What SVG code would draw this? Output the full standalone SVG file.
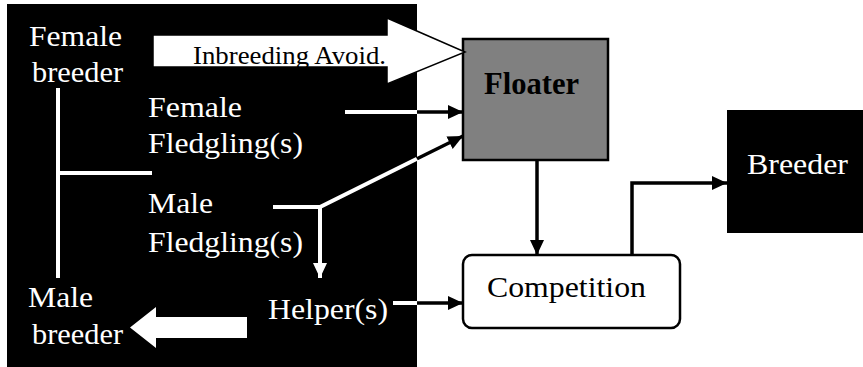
<svg xmlns="http://www.w3.org/2000/svg" width="863" height="367" viewBox="0 0 863 367" font-family="Liberation Serif, Times New Roman, serif">
<style>
text{font-family:'Liberation Serif','Times New Roman',serif;font-size:30px}
.w{fill:#fff}
.k{fill:#000}
.wl{stroke:#fff;stroke-width:4;fill:none}
.kl{stroke:#000;stroke-width:3.5;fill:none}
</style>
<defs>
<marker id="ah" markerUnits="userSpaceOnUse" markerWidth="16" markerHeight="14" refX="15" refY="7" orient="auto"><path d="M0,0 L15,7 L0,14 z" fill="#000"/></marker>
<marker id="ahw" markerUnits="userSpaceOnUse" markerWidth="16" markerHeight="14" refX="15" refY="7" orient="auto"><path d="M0,0 L15,7 L0,14 z" fill="#fff"/></marker>
</defs>
<rect x="0" y="0" width="863" height="367" fill="#fff"/>
<g id="family">
<rect x="7" y="4" width="410" height="363" fill="#000"/>
</g>
<g id="breeder">
<rect x="727" y="110" width="140" height="123" fill="#000"/>
<text class="w" x="747" y="174" textLength="101" lengthAdjust="spacingAndGlyphs">Breeder</text>
</g>
<g id="floater">
<rect x="463" y="39" width="145" height="121" fill="#808080" stroke="#000" stroke-width="2.5"/>
<text class="k" x="484" y="94" font-weight="bold" style="font-size:32px" textLength="95" lengthAdjust="spacingAndGlyphs">Floater</text>
</g>
<g id="competition">
<rect x="463" y="255" width="217" height="73" rx="9" fill="#fff" stroke="#000" stroke-width="2.5"/>
<text class="k" x="487" y="297" textLength="159" lengthAdjust="spacingAndGlyphs">Competition</text>
</g>
<g id="connectors">
<path class="wl" d="M58,88 V278 M58,173 H152"/>
<polygon points="153,35 387,35 387,18 465,52 387,84 387,67 153,67" fill="#fff" stroke="#000" stroke-width="1.5"/>
<text class="k" x="193" y="64" style="font-size:26px" textLength="193" lengthAdjust="spacingAndGlyphs">Inbreeding Avoid.</text>
<path class="wl" d="M345,112 H417"/>
<path class="kl" d="M417,112 H463" marker-end="url(#ah)"/>
<path class="wl" d="M273,207 H320 L417,158.8"/>
<path class="kl" d="M417,158.8 L463,136" marker-end="url(#ah)"/>
<path class="wl" d="M320,207 V278" marker-end="url(#ahw)"/>
<path class="wl" d="M393,303 H417"/>
<path class="kl" d="M417,303 H463" marker-end="url(#ah)"/>
<path class="kl" d="M537,160 V255" marker-end="url(#ah)"/>
<path class="kl" d="M632,255 V183 H727" marker-end="url(#ah)"/>
<polygon points="247,317 156,317 156,307 130,327.5 156,348 156,338 247,338" fill="#fff"/>
</g>
<g id="female-breeder">
<text class="w" x="29" y="46" textLength="93" lengthAdjust="spacingAndGlyphs">Female</text>
<text class="w" x="32" y="82" textLength="91" lengthAdjust="spacingAndGlyphs">breeder</text>
</g>
<g id="female-fledglings">
<text class="w" x="148" y="117" textLength="94" lengthAdjust="spacingAndGlyphs">Female</text>
<text class="w" x="148" y="153" textLength="155" lengthAdjust="spacingAndGlyphs">Fledgling(s)</text>
</g>
<g id="male-fledglings">
<text class="w" x="148" y="213" textLength="65" lengthAdjust="spacingAndGlyphs">Male</text>
<text class="w" x="148" y="252" textLength="155" lengthAdjust="spacingAndGlyphs">Fledgling(s)</text>
</g>
<g id="male-breeder">
<text class="w" x="28" y="307" textLength="65" lengthAdjust="spacingAndGlyphs">Male</text>
<text class="w" x="32" y="344" textLength="91" lengthAdjust="spacingAndGlyphs">breeder</text>
</g>
<g id="helpers">
<text class="w" x="268" y="319" textLength="120" lengthAdjust="spacingAndGlyphs">Helper(s)</text>
</g>
</svg>
